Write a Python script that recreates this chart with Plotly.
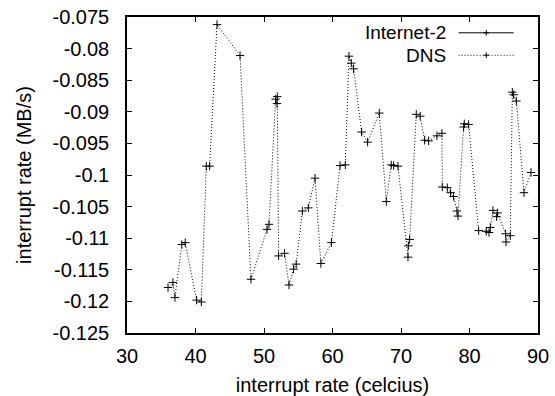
import plotly.graph_objects as go

# ---- data ----
dns_x = [35.99, 36.7, 37.0, 38.0, 38.5, 40.16, 40.85, 41.58, 42.06, 43.14,
         46.5, 48.1, 50.44, 50.73, 51.7, 51.9, 51.94, 52.13, 53.0, 53.65,
         54.32, 54.7, 55.6, 56.47, 57.45, 58.3, 59.85, 61.1, 61.87, 62.4,
         62.74, 63.08, 64.25, 65.13, 66.83, 67.85, 68.58, 68.92, 69.56, 71.02,
         71.07, 71.26, 72.23, 72.8, 73.45, 74.03, 75.25, 75.98, 76.03, 76.76,
         77.24, 77.68, 78.17, 78.32, 79.14, 79.24, 79.87, 81.33, 82.45, 82.85,
         83.04, 83.43, 83.96, 84.1, 85.27, 85.33, 85.96, 86.25, 86.44, 86.84,
         87.95, 88.98]
dns_y = [-0.1178, -0.1170, -0.1194, -0.1110, -0.1107, -0.1198, -0.1201, -0.0986, -0.0986, -0.0762,
         -0.0811, -0.1165, -0.1086, -0.1078, -0.0880, -0.0887, -0.0876, -0.1128, -0.1124, -0.1174,
         -0.1149, -0.1141, -0.1057, -0.1052, -0.1005, -0.1140, -0.1107, -0.0985, -0.0984, -0.0812,
         -0.0823, -0.0832, -0.0932, -0.0948, -0.0902, -0.1042, -0.0984, -0.0985, -0.0986, -0.1130,
         -0.1112, -0.1102, -0.0904, -0.0907, -0.0945, -0.0946, -0.0938, -0.0934, -0.1019, -0.1020,
         -0.1028, -0.1034, -0.1057, -0.1065, -0.0924, -0.0919, -0.0920, -0.1088, -0.1089, -0.1091,
         -0.1083, -0.1056, -0.1066, -0.1060, -0.1093, -0.1106, -0.1096, -0.0869, -0.0873, -0.0883,
         -0.1028, -0.0996]
internet2_x = []
internet2_y = []

x_ticks = [30, 40, 50, 60, 70, 80, 90]
y_ticks = [-0.125, -0.12, -0.115, -0.11, -0.105, -0.1, -0.095, -0.09, -0.085, -0.08, -0.075]
y_tick_labels = ["-0.125", "-0.12", "-0.115", "-0.11", "-0.105", "-0.1",
                 "-0.095", "-0.09", "-0.085", "-0.08", "-0.075"]
series_names = ["Internet-2", "DNS"]

FONT = "Liberation Sans, Arial, Helvetica, sans-serif"

fig = go.Figure()
fig.add_trace(go.Scatter(x=internet2_x, y=internet2_y, mode="lines+markers",
                         name=series_names[0], showlegend=False,
                         line=dict(color="black", width=1),
                         marker=dict(symbol="cross-thin", size=6,
                                     line=dict(color="black", width=1))))
fig.add_trace(go.Scatter(x=dns_x, y=dns_y, mode="lines+markers",
                         name=series_names[1], showlegend=False,
                         line=dict(color="black", width=1, dash="1px,2px"),
                         marker=dict(symbol="cross-thin", size=6,
                                     line=dict(color="black", width=1))))

# legend drawn gnuplot-style (text on the left, sample on the right)
legend_rows = [(0.950, "solid"), (0.879, "1px,2px")]
for name, (yy, dash) in zip(series_names, legend_rows):
    fig.add_annotation(x=0.7786, y=yy, xref="paper", yref="paper", text=name,
                       showarrow=False, xanchor="right", yanchor="middle",
                       borderpad=0,
                       font=dict(family=FONT, size=19, color="black"))
    fig.add_shape(type="line", xref="paper", yref="paper",
                  x0=0.8068, x1=0.9407, y0=yy, y1=yy,
                  line=dict(color="black", width=1, dash=dash))
    fig.add_shape(type="line", xref="paper", yref="paper",
                  x0=0.8742 - 0.0065, x1=0.8742 + 0.0065, y0=yy, y1=yy,
                  line=dict(color="black", width=1))
    fig.add_shape(type="line", xref="paper", yref="paper",
                  x0=0.8742, x1=0.8742, y0=yy - 0.009, y1=yy + 0.009,
                  line=dict(color="black", width=1))

axis_common = dict(showgrid=False, zeroline=False, showline=True, linecolor="black",
                   linewidth=1.5, mirror="allticks", ticks="inside", ticklen=5,
                   tickcolor="black", tickwidth=1, automargin=False,
                   tickfont=dict(family=FONT, size=20, color="black"))

fig.update_xaxes(range=[30, 90], tickvals=x_ticks,
                 ticktext=[str(v) for v in x_ticks],
                 title=dict(text="interrupt rate (celcius)", standoff=22,
                            font=dict(family=FONT, size=20, color="black")),
                 ticklabelstandoff=4, **axis_common)
fig.update_yaxes(range=[-0.125, -0.075], tickvals=y_ticks, ticktext=y_tick_labels,
                 title=dict(text="interrupt rate (MB/s)", standoff=16,
                            font=dict(family=FONT, size=20, color="black")),
                 ticklabelstandoff=12, **axis_common)

fig.update_layout(width=555, height=396, margin=dict(l=127, r=17, t=17, b=63),
                  plot_bgcolor="white", paper_bgcolor="white",
                  font=dict(family=FONT, size=20, color="black"),
                  showlegend=False)

fig.write_html("out.html")
